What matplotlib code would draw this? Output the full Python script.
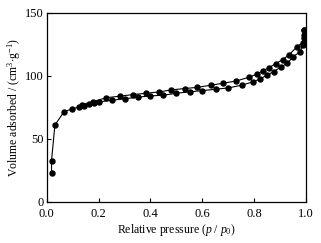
import matplotlib
matplotlib.use("Agg")
import matplotlib.pyplot as plt

ads_p = [0.018, 0.018, 0.031, 0.066, 0.098, 0.124, 0.145, 0.163, 0.183, 0.20, 0.252, 0.301, 0.35, 0.40,
         0.45, 0.50, 0.552, 0.60, 0.651, 0.701, 0.752, 0.794, 0.822, 0.851, 0.876, 0.902, 0.928, 0.951,
         0.977, 0.99, 0.992, 0.993]
ads_v = [22.8, 32.8, 61, 71.5, 73.8, 75.4, 76.4, 77.5, 78.2, 79.4, 80.7, 81.9, 83.1, 84.1,
         84.7, 86.2, 87.4, 88.3, 89.4, 90.5, 92.6, 95.2, 97.4, 100.8, 103.4, 106.9, 110, 115.3,
         119, 124.4, 130, 136.5]
des_p = [0.993, 0.993, 0.987, 0.966, 0.936, 0.91, 0.884, 0.858, 0.833, 0.81, 0.781, 0.732, 0.681,
         0.632, 0.581, 0.533, 0.481, 0.434, 0.382, 0.333, 0.281, 0.23, 0.179, 0.134]
des_v = [136.5, 132.5, 126.4, 123.3, 116.9, 112.9, 109.8, 106.6, 104, 101.3, 99, 96, 94.2,
         92.6, 90.9, 90.0, 88.9, 87.3, 86.2, 85.2, 83.9, 82.7, 79.6, 77]
xticks = [0.0, 0.2, 0.4, 0.6, 0.8, 1.0]
yticks = [0, 50, 100, 150]

plt.rcParams['font.family'] = ['Liberation Serif', 'DejaVu Serif']
plt.rcParams['mathtext.fontset'] = 'custom'
plt.rcParams['mathtext.rm'] = 'Liberation Serif'
plt.rcParams['mathtext.it'] = 'Liberation Serif:italic'

fig = plt.figure(figsize=(3.21, 2.43), dpi=100)
ax = fig.add_axes([0.146, 0.169, 0.807, 0.778])
kw = dict(color='black', marker='o', markersize=3.6, linewidth=0.8)
ax.plot(ads_p, ads_v, **kw)
ax.plot(des_p, des_v, **kw)
ax.set_xlim(0, 1.0)
ax.set_ylim(0, 150)
ax.set_xticks(xticks)
ax.set_xticklabels([f"{t:.1f}" for t in xticks])
ax.set_yticks(yticks)
ax.tick_params(direction='in', length=3, width=0.8, labelsize=9)
ax.tick_params(axis='x', pad=4.5)
ax.tick_params(axis='y', pad=2)
for s in ax.spines.values():
    s.set_linewidth(0.9)
ax.set_xlabel(r"Relative pressure ($p$ / $p_0$)", fontsize=8.5, labelpad=1)
ax.set_ylabel(r"Volume adsorbed / (cm$^3$$\cdot$g$^{-1}$)", fontsize=8.5, labelpad=2)
fig.savefig("out.png", dpi=100)
